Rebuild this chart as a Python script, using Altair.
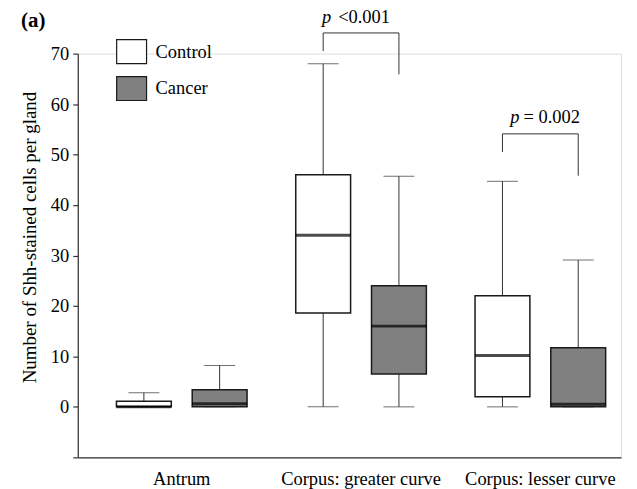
import altair as alt
import pandas as pd

# ---- data ----
groups = ["Antrum", "Antrum", "Corpus: greater curve", "Corpus: greater curve",
          "Corpus: lesser curve", "Corpus: lesser curve"]
series = ["Control", "Cancer", "Control", "Cancer", "Control", "Cancer"]
wmin = [0, 0, 0, 0, 0, 0]
q1 = [0, 0, 18.6, 6.5, 2.0, 0]
median = [0, 0.6, 34.0, 16.0, 10.2, 0.5]
q3 = [1.1, 3.4, 46.0, 24.0, 22.0, 11.7]
wmax = [2.8, 8.2, 68.0, 45.7, 44.7, 29.1]

group_order = ["Antrum", "Corpus: greater curve", "Corpus: lesser curve"]
series_order = ["Control", "Cancer"]

br_group = ["Corpus: greater curve"] * 4 + ["Corpus: lesser curve"] * 4
br_series = ["Control", "Control", "Cancer", "Cancer"] * 2
br_y = [70.5, 74.1, 74.1, 65.9, 50.5, 54.1, 54.1, 45.8]
br_order = [0, 1, 2, 3] * 2
br_id = ["a"] * 4 + ["b"] * 4

p_group = ["Corpus: greater curve", "Corpus: lesser curve"]
p_y = [76.0, 56.2]
p_italic = ["p", "p"]
p_rest = ["<0.001", "= 0.002"]

panel_label = ["(a)"]

FONT = "Liberation Serif, Times New Roman, Times, DejaVu Serif, serif"
FS = 18.5

box = pd.DataFrame(dict(group=groups, series=series, wmin=wmin, q1=q1,
                        median=median, q3=q3, wmax=wmax))
br = pd.DataFrame(dict(group=br_group, series=br_series, y=br_y, order=br_order, id=br_id))
ptxt = pd.DataFrame(dict(group=p_group, y=p_y, pi=p_italic, rest=p_rest))
lab = pd.DataFrame(dict(t=panel_label))

yscale = alt.Scale(domain=[-10, 70], nice=False, zero=False)
xenc = alt.X("group:N", sort=group_order,
             scale=alt.Scale(paddingInner=0.1, paddingOuter=0.065, align=1),
             axis=alt.Axis(title=None, ticks=False, tickSize=0, labelPadding=12,
                           labelFont=FONT, labelFontSize=FS, labelColor="black",
                           domainColor="#333", domainWidth=1.2, labelAngle=0))
xoff = alt.XOffset("series:N", sort=series_order,
                   scale=alt.Scale(paddingInner=0.276, paddingOuter=0.203))
yaxis = alt.Axis(title="Number of Shh-stained cells per gland",
                 values=[-10, 0, 10, 20, 30, 40, 50, 60, 70],
                 labelExpr="datum.value < 0 ? '' : datum.label",
                 grid=False, tickSize=5, tickColor="#333", tickWidth=1.2,
                 domainColor="#333", domainWidth=1.2,
                 labelFont=FONT, labelFontSize=FS, labelColor="black", labelPadding=4,
                 titleFont=FONT, titleFontSize=19, titleFontWeight="normal",
                 titleColor="black", titleX=-48, titleY=184,
                 titleAlign="center", titleBaseline="middle")

base = alt.Chart(box).encode(x=xenc, xOffset=xoff)

lower = base.mark_rule(color="#333", strokeWidth=1).encode(
    y=alt.Y("wmin:Q", scale=yscale, axis=yaxis), y2="q1:Q")
upper = base.mark_rule(color="#333", strokeWidth=1).encode(
    y=alt.Y("q3:Q", scale=yscale), y2="wmax:Q")
caps_top = base.mark_tick(size=31, thickness=1, color="#333").encode(
    y=alt.Y("wmax:Q", scale=yscale))
caps_bot = base.mark_tick(size=31, thickness=1, color="#333").encode(
    y=alt.Y("wmin:Q", scale=yscale))
boxes = base.mark_bar(stroke="#1a1a1a", strokeWidth=1.5).encode(
    y=alt.Y("q1:Q", scale=yscale), y2="q3:Q",
    fill=alt.Fill("series:N", sort=series_order,
                  scale=alt.Scale(domain=series_order, range=["white", "#808080"]),
                  legend=alt.Legend(title=None, orient="none", legendX=38, legendY=-18,
                                    symbolType="M-1,-0.8H1V0.8H-1Z", symbolSize=900,
                                    symbolStrokeColor="#1a1a1a", symbolStrokeWidth=1.2,
                                    labelFont=FONT, labelFontSize=FS, labelColor="black",
                                    labelOffset=8, rowPadding=6, padding=0)))
meds = base.mark_tick(size=55, thickness=3, color="black").encode(
    y=alt.Y("median:Q", scale=yscale))

brackets = alt.Chart(br).mark_line(color="#333", strokeWidth=1).encode(
    x=alt.X("group:N", sort=group_order), xOffset=alt.XOffset("series:N", sort=series_order),
    y=alt.Y("y:Q", scale=yscale), order="order:Q", detail="id:N")

t1 = alt.Chart(ptxt.iloc[[0]]).mark_text(font=FONT, fontSize=FS, fontStyle="italic",
                                         align="right", baseline="alphabetic", dx=-30).encode(
    x=alt.X("group:N", sort=group_order), y=alt.Y("y:Q", scale=yscale), text="pi:N")
t2 = alt.Chart(ptxt.iloc[[0]]).mark_text(font=FONT, fontSize=FS,
                                         align="left", baseline="alphabetic", dx=-23).encode(
    x=alt.X("group:N", sort=group_order), y=alt.Y("y:Q", scale=yscale), text="rest:N")
t3 = alt.Chart(ptxt.iloc[[1]]).mark_text(font=FONT, fontSize=FS, fontStyle="italic",
                                         align="right", baseline="alphabetic", dx=-21).encode(
    x=alt.X("group:N", sort=group_order), y=alt.Y("y:Q", scale=yscale), text="pi:N")
t4 = alt.Chart(ptxt.iloc[[1]]).mark_text(font=FONT, fontSize=FS,
                                         align="left", baseline="alphabetic", dx=-17).encode(
    x=alt.X("group:N", sort=group_order), y=alt.Y("y:Q", scale=yscale), text="rest:N")

panel = alt.Chart(lab).mark_text(font=FONT, fontSize=21, fontWeight="bold",
                                 align="left", baseline="alphabetic", color="black").encode(
    x=alt.value(-57), y=alt.value(-27), text="t:N")

chart = alt.layer(lower, upper, caps_bot, caps_top, boxes, meds, brackets,
                  t1, t2, t3, t4, panel).properties(
    width=545, height=405,
    autosize=alt.AutoSizeParams(type="none"),
    padding={"left": 70, "top": 45, "right": 8, "bottom": 31},
).configure_view(stroke=None).configure(background="white")

chart.save("out.html", embed_options={"renderer": "svg", "actions": False})
